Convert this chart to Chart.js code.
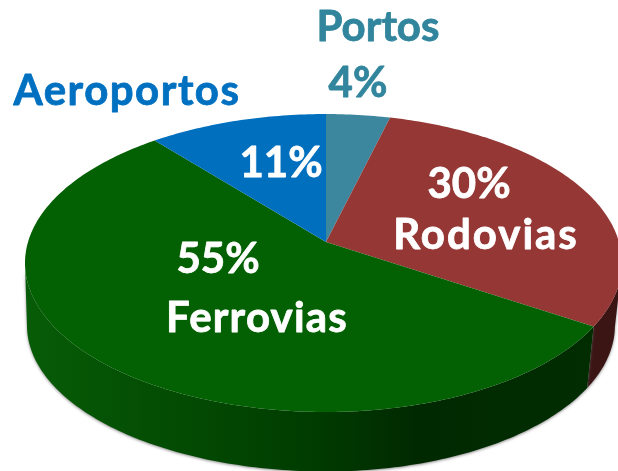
<!DOCTYPE html>
<html>
<head>
<meta charset="utf-8">
<style>
  html, body { margin: 0; padding: 0; background: #fff; }
  canvas { display: block; }
</style>
<script src="https://cdn.jsdelivr.net/npm/chart.js@4"></script>
</head>
<body>
<canvas id="pie" width="618" height="471"></canvas>
<script>
const categories = ["Portos", "Rodovias", "Ferrovias", "Aeroportos"];
const shares = [4, 30, 55, 11];

const topColors = ["#3c869e", "#943735", "#036103", "#006fbe"];
const textColors = { name: ["#31859c", "#fff", "#fff", "#0070c0"], pct: ["#31859c", "#fff", "#fff", "#fff"] };

// label anchors: centre x, baseline y
const nameSpots = [[378, 41], [486, 249], [257, 332], [127, 105]];
const pctSpots = [[358, 97], [469, 198], [218, 273], [281, 177]];
const nameSpacing = ["0px", "2px", "1.2px", "1.5px"];

// the picture has real perspective, so the arcs go through a projection of the disc
const topRim = { x: 326, y: 242, left: 298, right: 293, b: 146 };
const bottomRim = { x: 326, y: 305, left: 296, right: 286, b: 143 };
const tilt = 0.141;

function project(rim, angle) {
  const u = Math.cos(angle);
  const v = -Math.sin(angle);
  const d = 1 + tilt * v;
  return [rim.x + (u < 0 ? rim.left : rim.right) * u / d, rim.y - rim.b * v / d];
}

function sampleAngles(arc) {
  const steps = Math.max(2, Math.ceil((arc.endAngle - arc.startAngle) * 60));
  return Array.from({ length: steps + 1 }, (_, i) => arc.startAngle + (arc.endAngle - arc.startAngle) * i / steps);
}

function sideFill(ctx, index) {
  if (index === 1) return "#3b1414";
  const g = ctx.createLinearGradient(25, 0, 600, 0);
  g.addColorStop(0, "#075c07");
  g.addColorStop(0.2, "#044f04");
  g.addColorStop(0.5, "#003c00");
  g.addColorStop(0.68, "#012901");
  g.addColorStop(1, "#012d01");
  return g;
}

const perspectivePie = {
  id: "perspectivePie",
  beforeDatasetDraw(chart, args) {
    const ctx = chart.ctx;
    const arcs = args.meta.data;
    ctx.save();

    // side wall first, front part only: past the silhouette the strip folds over itself
    ctx.shadowColor = "rgba(90,90,90,0.7)";
    ctx.shadowBlur = 3;
    ctx.shadowOffsetY = 1;
    arcs.forEach((arc, i) => {
      const angles = sampleAngles(arc).filter((a) => Math.sin(a) >= tilt);
      if (angles.length < 2) return;
      ctx.beginPath();
      angles.forEach((a) => ctx.lineTo(...project(topRim, a)));
      angles.slice().reverse().forEach((a) => ctx.lineTo(...project(bottomRim, a)));
      ctx.closePath();
      ctx.fillStyle = sideFill(ctx, i);
      ctx.fill();
    });
    ctx.shadowColor = "transparent";

    arcs.forEach((arc) => {
      ctx.beginPath();
      ctx.moveTo(topRim.x, topRim.y);
      sampleAngles(arc).forEach((a) => ctx.lineTo(...project(topRim, a)));
      ctx.closePath();
      ctx.fillStyle = arc.options.backgroundColor;
      ctx.fill();
    });
    ctx.restore();
    return false;
  },
  afterDatasetsDraw(chart) {
    const ctx = chart.ctx;
    ctx.save();
    ctx.font = 'bold 42px "Lato"';
    ctx.textAlign = "center";
    ctx.lineWidth = 0.8;
    ctx.lineJoin = "round";
    categories.forEach((name, i) => {
      ctx.letterSpacing = nameSpacing[i];
      ctx.fillStyle = ctx.strokeStyle = textColors.name[i];
      ctx.fillText(name, nameSpots[i][0], nameSpots[i][1]);
      ctx.strokeText(name, nameSpots[i][0], nameSpots[i][1]);
      ctx.letterSpacing = "0px";
      ctx.fillStyle = ctx.strokeStyle = textColors.pct[i];
      ctx.fillText(`${shares[i]}%`, pctSpots[i][0], pctSpots[i][1]);
      ctx.strokeText(`${shares[i]}%`, pctSpots[i][0], pctSpots[i][1]);
    });
    ctx.restore();
  },
};

new Chart(document.getElementById("pie"), {
  type: "pie",
  data: {
    labels: categories,
    datasets: [{ data: shares, backgroundColor: topColors, borderWidth: 0 }],
  },
  options: {
    responsive: false,
    animation: false,
    plugins: { legend: { display: false }, tooltip: { enabled: false } },
  },
  plugins: [perspectivePie],
});
</script>
</body>
</html>
